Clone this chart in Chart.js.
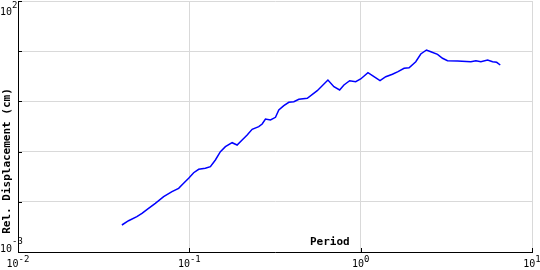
<!DOCTYPE html>
<html>
<head>
<meta charset="utf-8">
<script src="https://cdn.jsdelivr.net/npm/chart.js@4/dist/chart.umd.min.js"></script>
<style>
  html, body { margin: 0; padding: 0; background: #fff; }
  #wrap { width: 540px; height: 270px; }
</style>
</head>
<body>
<div id="wrap"><canvas id="grafico"></canvas></div>
<script>
// periodo (s) e deslocamento relativo (cm)
const periods = [0.0404, 0.0442, 0.0494, 0.0529, 0.0578, 0.0633, 0.0708, 0.0792, 0.0866, 0.0926,
    0.0991, 0.106, 0.1134, 0.124, 0.1327, 0.1419, 0.1518, 0.1624, 0.1777, 0.19,
    0.2033, 0.2175, 0.2326, 0.2542, 0.2661, 0.2782, 0.2976, 0.3183, 0.3328, 0.356,
    0.3808, 0.4073, 0.4357, 0.4879, 0.558, 0.6439, 0.698, 0.7537, 0.7986, 0.8625,
    0.935, 1.0, 1.103, 1.196, 1.297, 1.401, 1.532, 1.652, 1.792, 1.917,
    2.097, 2.243, 2.422, 2.567, 2.809, 3.004, 3.214, 3.678, 4.398, 4.704,
    5.032, 5.507, 5.89, 6.22, 6.526];
const displacements = [0.00345, 0.0042, 0.00505, 0.0059, 0.00742, 0.00934, 0.01264, 0.0159, 0.01858, 0.02336,
    0.02938, 0.038, 0.04441, 0.04649, 0.05, 0.068, 0.0995, 0.1252, 0.1504, 0.1353,
    0.1703, 0.2142, 0.278, 0.3133, 0.3546, 0.446, 0.4261, 0.4824, 0.6742, 0.821,
    0.9596, 0.986, 1.101, 1.153, 1.633, 2.669, 1.962, 1.687, 2.121, 2.585,
    2.468, 2.794, 3.731, 3.105, 2.585, 3.105, 3.466, 3.905, 4.564, 4.691,
    6.178, 8.795, 10.57, 9.772, 8.675, 7.222, 6.469, 6.38, 6.178, 6.469,
    6.178, 6.677, 6.178, 6.009, 5.31];
const xDecades = [0.01, 0.1, 1, 10];
const yDecades = [0.001, 0.01, 0.1, 1, 10, 100];
const xTickLabels = [['10', '-2'], ['10', '-1'], ['10', '0'], ['10', '1']];
const yTickLabels = [['10', '-3'], null, null, null, null, ['10', '2']];

const mono = '"DejaVu Sans Mono", monospace';

// rotulos com expoente, marcas internas e titulos
const rotulos = {
    id: 'rotulos',
    afterDraw(chart) {
        const ctx = chart.ctx;
        const xs = chart.scales.x, ys = chart.scales.y;
        const area = chart.chartArea;
        ctx.save();

        // marcas internas
        ctx.strokeStyle = '#000';
        ctx.lineWidth = 1;
        ctx.beginPath();
        yDecades.forEach(v => {
            const py = Math.round(ys.getPixelForValue(v)) + 0.5;
            ctx.moveTo(area.left, py);
            ctx.lineTo(area.left + 4, py);
        });
        xDecades.forEach(v => {
            const px = Math.round(xs.getPixelForValue(v)) + 0.5;
            ctx.moveTo(px, area.bottom);
            ctx.lineTo(px, area.bottom - 4);
        });
        ctx.stroke();

        ctx.fillStyle = '#000';
        ctx.textBaseline = 'alphabetic';
        ctx.textAlign = 'left';
        const base = '10px ' + mono, sup = '9px ' + mono;
        function label(pair, x, yBase, yExp, centered) {
            ctx.font = base;
            const wb = ctx.measureText(pair[0]).width;
            ctx.font = sup;
            const we = ctx.measureText(pair[1]).width;
            const x0 = centered ? x - (wb + we) / 2 : x;
            ctx.font = base;
            ctx.fillText(pair[0], x0, yBase);
            ctx.font = sup;
            ctx.fillText(pair[1], x0 + wb, yExp);
        }
        xDecades.forEach((v, i) => {
            label(xTickLabels[i], xs.getPixelForValue(v), 267, 262, true);
        });
        yDecades.forEach((v, i) => {
            if (!yTickLabels[i]) return;
            const py = ys.getPixelForValue(v);
            if (i === 0) label(yTickLabels[i], 0, py, py - 8, false);
            else label(yTickLabels[i], 0, py + 14, py + 7, false);
        });

        // titulos
        ctx.font = 'bold 11px ' + mono;
        ctx.textAlign = 'left';
        ctx.fillText('Period', 310, 245);
        ctx.translate(10, 161);
        ctx.rotate(-Math.PI / 2);
        ctx.textAlign = 'center';
        ctx.fillText('Rel. Displacement (cm)', 0, 0);
        ctx.restore();
    }
};

const ctxGrafico = document.getElementById('grafico').getContext('2d');
const grafico = new Chart(ctxGrafico, {
    type: 'line',
    data: {
        datasets: [{
            data: periods.map((p, i) => ({ x: p, y: displacements[i] })),
            borderColor: '#0000ff',
            borderWidth: 1.5,
            pointRadius: 0,
            fill: false,
            tension: 0
        }]
    },
    options: {
        responsive: true,
        maintainAspectRatio: false,
        animation: false,
        layout: { padding: { left: 18, right: 8, top: 1, bottom: 18 } },
        plugins: { legend: { display: false }, tooltip: { enabled: false } },
        scales: {
            x: {
                type: 'logarithmic',
                min: 0.01,
                max: 10,
                afterBuildTicks: s => { s.ticks = xDecades.map(v => ({ value: v })); },
                ticks: { display: false },
                grid: { color: '#d9d9d9', drawTicks: false },
                border: { display: true, color: '#000', width: 1 }
            },
            y: {
                type: 'logarithmic',
                min: 0.001,
                max: 100,
                afterBuildTicks: s => { s.ticks = yDecades.map(v => ({ value: v })); },
                ticks: { display: false },
                grid: { color: '#d9d9d9', drawTicks: false },
                border: { display: true, color: '#000', width: 1 }
            }
        }
    },
    plugins: [rotulos]
});
</script>
</body>
</html>
